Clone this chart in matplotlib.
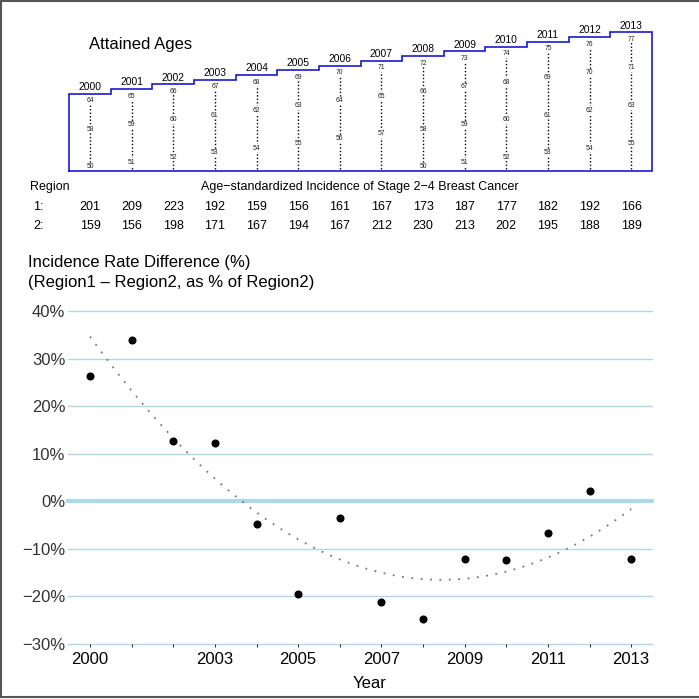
import numpy as np
import matplotlib
matplotlib.use('Agg')
import matplotlib.pyplot as plt
from matplotlib.lines import Line2D
import matplotlib.transforms as mtransforms

# ---------------- data ----------------
years = list(range(2000, 2014))
region1 = [201, 209, 223, 192, 159, 156, 161, 167, 173, 187, 177, 182, 192, 166]
region2 = [159, 156, 198, 171, 167, 194, 167, 212, 230, 213, 202, 195, 188, 189]
attained_ages = [
    [64, 58, 50], [65, 59, 51], [66, 60, 52], [67, 61, 53], [68, 62, 54],
    [69, 63, 55], [70, 64, 56], [71, 65, 57], [72, 66, 58, 50], [73, 67, 59, 51],
    [74, 68, 60, 52], [75, 69, 61, 53], [76, 70, 62, 54], [77, 71, 63, 55],
]
ytick_vals = [-30, -20, -10, 0, 10, 20, 30, 40]
xtick_labels = [2000, 2003, 2005, 2007, 2009, 2011, 2013]

diff = [(a - b) / b * 100 for a, b in zip(region1, region2)]

plt.rcParams['font.family'] = ['Liberation Sans', 'DejaVu Sans']

W = H = 699
fig = plt.figure(figsize=(6.99, 6.99), dpi=100)


def fx(px):
    return px / W


def fy(py):
    return 1 - py / H


xlim = (1999.47, 2013.5)
PX_PER_AGE = 4.72

# ---------------- top panel: attained ages ----------------
axt = fig.add_axes([fx(68), fy(172), fx(652) - fx(68), fy(20) - fy(172)])
axt.set_xlim(xlim)
axt.set_ylim(50 - 5 / PX_PER_AGE, 50 + 147 / PX_PER_AGE)
axt.axis('off')

tops = [max(a) + 1.5 for a in attained_ages]
box_bottom = 49.2
xs = [years[0] - 0.5]
ys = [box_bottom]
for i, yr in enumerate(years):
    xs += [yr - 0.5, yr + 0.5]
    ys += [tops[i], tops[i]]
xs += [years[-1] + 0.5, years[0] - 0.5]
ys += [box_bottom, box_bottom]
axt.plot(xs, ys, color='#1a1ad0', lw=1.2, clip_on=False, solid_joinstyle='miter',
         zorder=5)

for i, yr in enumerate(years):
    axt.plot([yr, yr], [49.6, max(attained_ages[i])], color='black', lw=1.0,
             linestyle=(0, (1, 1.5)), clip_on=False, zorder=2)
    for a in attained_ages[i]:
        axt.text(yr, a, str(a), ha='center', va='center', fontsize=4.9,
                 color='#222222', zorder=3,
                 bbox=dict(facecolor='white', edgecolor='none', pad=0.3))
    axt.text(yr, tops[i] + 1.45, str(yr), ha='center', va='center',
             fontsize=7.4, color='black')

fig.text(fx(89), fy(45), 'Attained Ages', ha='left', va='center', fontsize=12)

# ---------------- table ----------------
tr = mtransforms.blended_transform_factory(axt.transData, fig.transFigure)
fig.text(fx(30), fy(187), 'Region', ha='left', va='center', fontsize=9)
fig.text(fx(360), fy(187), 'Age\u2212standardized Incidence of Stage 2\u22124 Breast Cancer',
         ha='center', va='center', fontsize=9)
fig.text(fx(33), fy(207), '1:', ha='left', va='center', fontsize=9)
fig.text(fx(33), fy(226), '2:', ha='left', va='center', fontsize=9)
for i, yr in enumerate(years):
    fig.text(yr, fy(207), str(region1[i]), transform=tr, ha='center', va='center', fontsize=9)
    fig.text(yr, fy(226), str(region2[i]), transform=tr, ha='center', va='center', fontsize=9)

# ---------------- lower panel ----------------
fig.text(fx(28), fy(263), 'Incidence Rate Difference (%)', ha='left', va='center', fontsize=12)
fig.text(fx(28), fy(283), '(Region1 \u2013 Region2, as % of Region2)', ha='left', va='center',
         fontsize=12)

ax = fig.add_axes([fx(68), fy(644), fx(652) - fx(68), fy(311) - fy(644)])
ax.set_xlim(xlim)
ax.set_ylim(-30, 40)
for s in ax.spines.values():
    s.set_visible(False)

for v in ytick_vals:
    ax.axhline(v, color='#add8e6', lw=3.0 if v == 0 else 1.0, zorder=1, clip_on=False)

ax.set_yticks(ytick_vals)
ax.set_yticklabels([f'\u2212{abs(v)}%' if v < 0 else f'{v}%' for v in ytick_vals])
ax.tick_params(axis='y', length=0, pad=2, labelsize=12, labelcolor='#333333')

ax.set_xticks(years)
ax.set_xticklabels([str(y) if y in xtick_labels else '' for y in years])
ax.tick_params(axis='x', length=2.5, width=0.8, color='#333333', pad=3,
               labelsize=12, labelcolor='black', direction='out')

# trend (quadratic fit of the differences)
coef = np.polyfit(np.array(years) - 2000, diff, 2)
xx = np.linspace(years[0], years[-1], 200)
ax.plot(xx, np.polyval(coef, xx - 2000), color='#777777', lw=1.3,
        linestyle=(0, (1, 4.2)), zorder=2)

ax.plot(years, diff, 'o', color='black', markersize=4.8, zorder=3, clip_on=False)

fig.text(fx(370), fy(684), 'Year', ha='center', va='center', fontsize=12)

# figure border
fig.add_artist(Line2D([fx(1), fx(1)], [fy(697), fy(1)], color='#555555', lw=1.5))
fig.add_artist(Line2D([fx(1), 1], [fy(1), fy(1)], color='#555555', lw=1.5))
fig.add_artist(Line2D([fx(1), 1], [fy(697), fy(697)], color='#555555', lw=1.5))

fig.savefig('out.png', dpi=100)
